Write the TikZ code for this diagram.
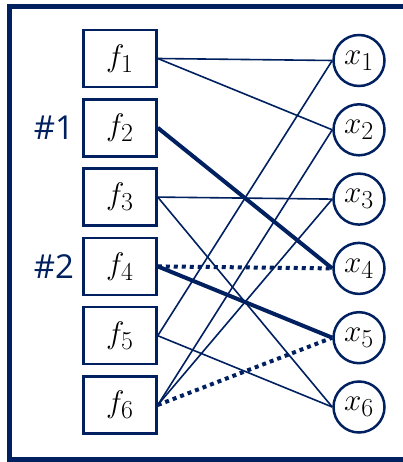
\documentclass[tikz,border=0pt]{standalone}
\usepackage{fontspec}
\newfontfamily\tagfont{Open Sans}
\usetikzlibrary{positioning}
\definecolor{navy}{RGB}{0,32,96}

\tikzset{
  fbox/.style={draw=navy, line width=2.5pt, minimum width=73pt, minimum height=57pt, text=black},
  xnode/.style={draw=navy, circle, line width=2.5pt, minimum size=51pt, inner sep=0pt, text=black},
  link/.style={navy, line width=1.6pt},
  boldlink/.style={navy, line width=4pt},
  dotlink/.style={navy, line width=4pt, dash pattern=on 4pt off 4pt},
  tag/.style={navy, font=\tagfont\fontsize{33}{33}\selectfont, inner sep=0pt}
}
% big math labels (cm math stops at 24.88pt, so scale it up)
\newcommand{\biglab}[1]{\scalebox{1.25}{\Huge$#1$}}

\begin{document}
\begin{tikzpicture}[x=1pt,y=-1pt]
        \useasboundingbox (0,0) rectangle (403,462);
        % Frame, runs off on the right:
        \draw [navy, line width=5pt] (430,6.5) -- (9.5,6.5) -- (9.5,459.5) -- (430,459.5);

        % Factors on the left, variables on the right:
        \foreach \i in {1,...,6}{%
            \node [fbox] (f\i) at (120, {58.5+69.3*(\i-1)}) {\biglab{f_{\i}}};
            \node [xnode] (x\i) at (359, {60.5+69.3*(\i-1)}) {\biglab{x_{\i}}};
        }

        % Plain edges:
        \foreach \a/\b in {1/1,1/2,3/3,3/6,5/1,5/6,6/2,6/3}
            \draw [link] (f\a.east) -- (x\b.west);
        % Marked edges:
        \draw [boldlink] (f2.east) -- (x4.west);
        \draw [boldlink] (f4.east) -- (x5.west);
        \draw [dotlink] (f4.east) -- (x4.west);
        \draw [dotlink] (f6.east) -- (x5.west);

        \node [tag, left=8pt of f2] (t1) {\#1};
        \node [tag, left=8pt of f4] (t2) {\#2};
    \end{tikzpicture}
\end{document}
